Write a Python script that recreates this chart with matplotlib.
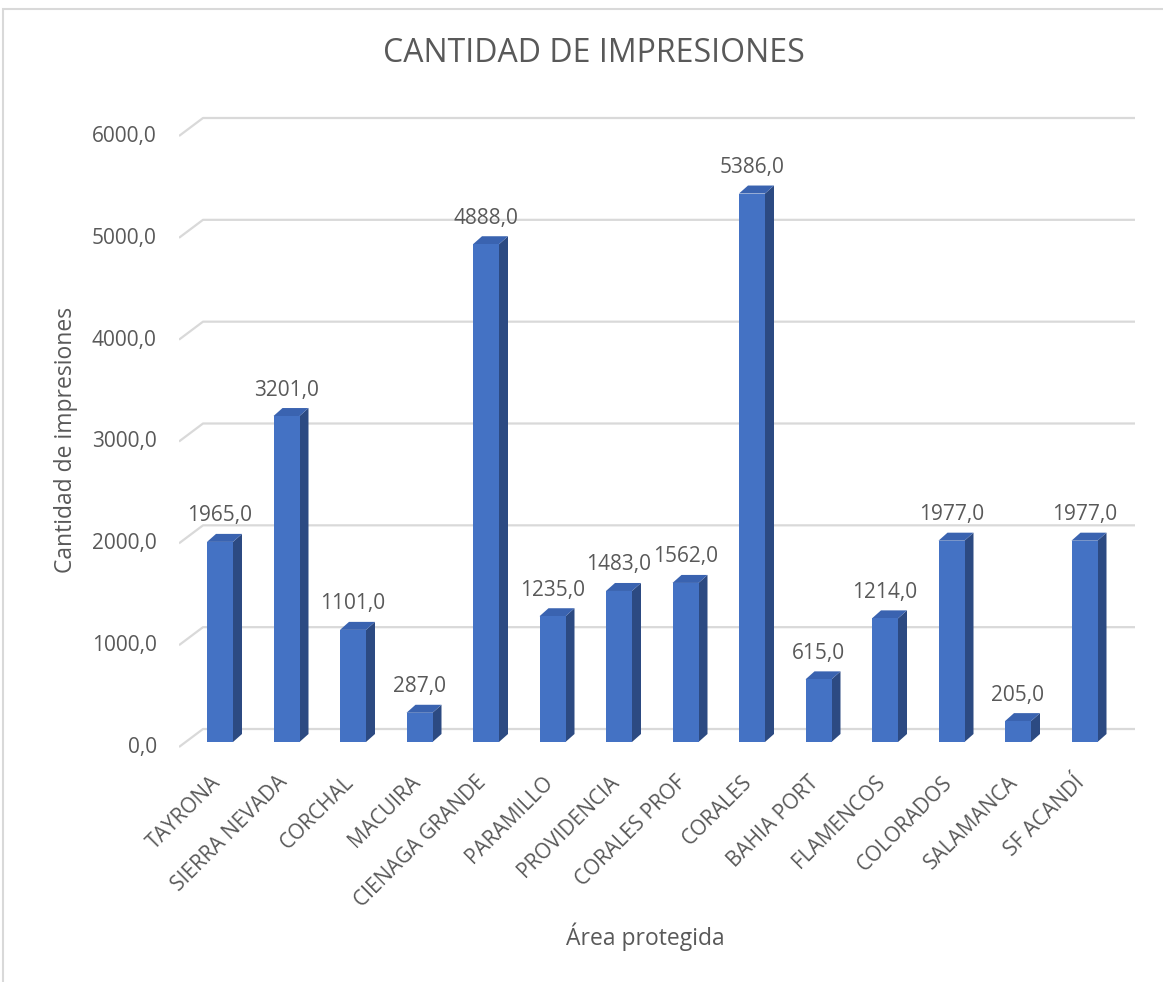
import matplotlib
matplotlib.use("Agg")
import matplotlib.pyplot as plt
from matplotlib.patches import Polygon, Rectangle

plt.rcParams['font.family'] = ['Open Sans', 'DejaVu Sans']

# data
areas = ["TAYRONA", "SIERRA NEVADA", "CORCHAL", "MACUIRA", "CIENAGA GRANDE",
         "PARAMILLO", "PROVIDENCIA", "CORALES PROF", "CORALES", "BAHIA PORT",
         "FLAMENCOS", "COLORADOS", "SALAMANCA", "SF ACANDÍ"]
impresiones = [1965, 3201, 1101, 287, 4888, 1235, 1483, 1562, 5386, 615,
               1214, 1977, 205, 1977]
y_ticks = [0, 1000, 2000, 3000, 4000, 5000, 6000]

TEXT = '#595959'
GRID = '#D9D9D9'
FRONT = '#4472C4'
SIDE = '#2C4A82'
TOP = '#3A63B0'

W, H = 1163, 982
fig = plt.figure(figsize=(W / 100, H / 100), dpi=100)

# chart frame (only top/left edges visible)
fig.patches.append(Rectangle((3 / W, -0.1), 1.2, 1 - 9 / H + 0.1, transform=fig.transFigure,
                             fill=False, edgecolor=GRID, lw=1.5))

# pixel geometry of the plot area
px_left, px_right = 179, 1135
px_top, px_bot = 100, 760
x0_px, step_px = 220, 66.5        # first category centre / spacing
y0_px, ppv = 742, 611 / 6000      # baseline / pixels per unit
ax = fig.add_axes([px_left / W, 1 - px_bot / H, (px_right - px_left) / W, (px_bot - px_top) / H])
ax.set_xlim((px_left - x0_px) / step_px, (px_right - x0_px) / step_px)
ax.set_ylim((y0_px - px_bot) / ppv, (y0_px - px_top) / ppv)
for s in ax.spines.values():
    s.set_visible(False)

xl = ax.get_xlim()
back_x = (203 - x0_px) / step_px
front_dy = -5 / ppv
back_dy = 13 / ppv
for v in y_ticks:
    ax.plot([xl[0], back_x, xl[1]], [v + front_dy, v + back_dy, v + back_dy],
            color=GRID, lw=1.6, zorder=1, solid_capstyle='butt')

bw = 26 / step_px
dx = 9 / step_px
dy = 8 / ppv
for i, v in enumerate(impresiones):
    l, r = i - bw / 2, i + bw / 2
    ax.add_patch(Polygon([(r, 0), (r + dx, dy), (r + dx, v + dy), (r, v)],
                         closed=True, facecolor=SIDE, edgecolor='none', zorder=3))
    ax.add_patch(Polygon([(l, v), (r, v), (r + dx, v + dy), (l + dx, v + dy)],
                         closed=True, facecolor=TOP, edgecolor='none', zorder=3))
ax.bar(range(len(areas)), impresiones, width=bw, color=FRONT, zorder=4)

for i, v in enumerate(impresiones):
    ax.annotate(f"{v},0", (i, v + dy), xytext=(0, 9), textcoords='offset points',
                ha='center', va='baseline', fontsize=15, color=TEXT, zorder=5)

ax.set_yticks([v - 3 / ppv for v in y_ticks])
ax.set_yticklabels([f"{v},0" for v in y_ticks], fontsize=15, color=TEXT)
ax.tick_params(axis='y', length=0, pad=16)
ax.set_xticks([i - 0.04 for i in range(len(areas))])
ax.set_xticklabels(areas, rotation=45, ha='right', va='center', rotation_mode='anchor',
                   fontsize=15, color=TEXT)
ax.tick_params(axis='x', length=0, pad=14)

fig.text(594 / W, 1 - 54 / H, "CANTIDAD DE IMPRESIONES", ha='center', va='center',
         fontsize=23, color=TEXT)
fig.text(66 / W, 1 - 440 / H, "Cantidad de impresiones", ha='center', va='center',
         rotation=90, fontsize=16.5, color=TEXT)
fig.text(645 / W, 1 - 937 / H, "Área protegida", ha='center', va='center',
         fontsize=16.5, color=TEXT)

fig.savefig("out.png", dpi=100)
